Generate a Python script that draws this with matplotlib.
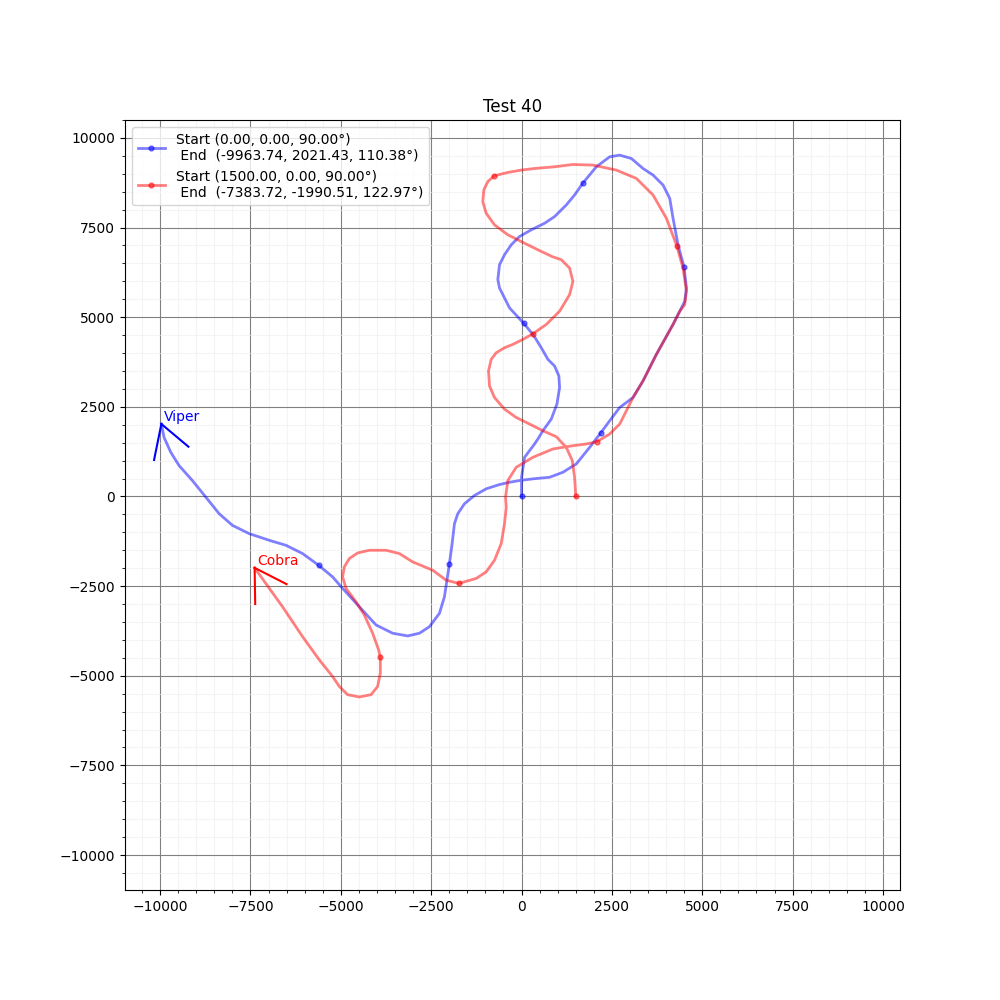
import numpy as np
import matplotlib
matplotlib.use("Agg")
import matplotlib.pyplot as plt
from matplotlib.ticker import MultipleLocator

# Viper track (x, y)
viper_x = [0, 0, 83, 360, 452, 590, 823, 978, 1053, 1033, 914, 729, 546, 330, 64, -332,
           -609, -656, -609, -471, -285, -55, 269, 637, 914, 1238, 1468, 1698, 2069, 2438,
           2715, 3039, 3360, 3637, 3914, 4100, 4191, 4330, 4496, 4562, 4515, 4377, 4191,
           3731, 3360, 3083, 2715, 2438, 2188, 1884, 1515, 1144, 776, 313, -55, -332, -609,
           -978, -1302, -1579, -1764, -1856, -1920, -1994, -2133, -2271, -2548, -2825,
           -3149, -3565, -4025, -4487, -4950, -5227, -5615, -6058, -6518, -6980, -7534,
           -7997, -8365, -8734, -9105, -9473, -9703, -9889, -9963.74]
viper_y = [0, 536, 1092, 1464, 1603, 1833, 2159, 2575, 3036, 3361, 3639, 3825, 4148, 4500,
           4825, 5259, 5814, 6048, 6464, 6742, 7020, 7251, 7437, 7620, 7806, 8131, 8409,
           8742, 9195, 9473, 9520, 9426, 9148, 8965, 8687, 8315, 7759, 7020, 6389, 5814,
           5445, 5167, 4798, 3964, 3222, 2759, 2481, 2111, 1770, 1370, 908, 675, 536, 492,
           444, 397, 333, 214, 28, -203, -481, -758, -1314, -1870, -2797, -3259, -3631,
           -3814, -3889, -3814, -3584, -3075, -2564, -2242, -1917, -1592, -1361, -1222,
           -1036, -806, -481, -19, 444, 861, 1231, 1647, 2021.43]
viper_marks_x = [0, 64, 1698, 4496, 2188, -1994, -5615]
viper_marks_y = [0, 4825, 8742, 6389, 1770, -1870, -1917]

# Cobra track
cobra_x = [1500, 1468, 1404, 1238, 961, 590, 222, -147, -471, -748, -886, -914, -839, -701,
           -471, -241, 36, 313, 684, 1053, 1330, 1421, 1330, 1100, 850, 546, 83, -379, -748,
           -978, -1072, -1044, -934, -767, -609, -379, -8, 360, 914, 1421, 1975, 2623, 3177,
           3637, 4008, 4294, 4468, 4562, 4515, 4377, 4191, 3731, 3360, 3083, 2900, 2715,
           2438, 2086, 1792, 1421, 867, 313, -147, -379, -443, -424, -471, -562, -748, -978,
           -1255, -1737, -2086, -2457, -3011, -3379, -3748, -4210, -4534, -4764, -4903,
           -4950, -4856, -4579, -4349, -4119, -3953, -3906, -3906, -3981, -4163, -4487,
           -4811, -5041, -5227, -5595, -6058, -6612, -7075, -7383.72]
cobra_y = [0, 536, 1000, 1370, 1667, 1833, 2020, 2203, 2436, 2759, 3084, 3500, 3825, 4009,
           4148, 4242, 4381, 4537, 4798, 5167, 5631, 6000, 6370, 6603, 6690, 6834, 7064,
           7298, 7576, 7898, 8223, 8548, 8779, 8937, 8981, 9037, 9103, 9148, 9195, 9259,
           9242, 9103, 8870, 8409, 7759, 6992, 6370, 5723, 5353, 5167, 4798, 3964, 3222,
           2759, 2389, 2020, 1742, 1528, 1464, 1417, 1325, 1092, 814, 444, -19, -297, -758,
           -1314, -1778, -2103, -2286, -2425, -2334, -2056, -1825, -1592, -1500, -1500,
           -1575, -1731, -1964, -2242, -2564, -2936, -3306, -3814, -4278, -4481, -4925,
           -5298, -5528, -5592, -5528, -5298, -5020, -4556, -3909, -3075, -2425, -1990.51]
cobra_marks_x = [1500, 313, -767, 4294, 2086, -1737, -3906]
cobra_marks_y = [0, 4537, 8937, 6992, 1528, -2425, -4481]

# heading whiskers drawn at each end point
viper_whisker = [(-10166, 1019), (-9216, 1389)]
cobra_whisker = [(-7368, -3000), (-6501, -2444)]

labels = ["Start (0.00, 0.00, 90.00\u00b0)\n End  (-9963.74, 2021.43, 110.38\u00b0)",
          "Start (1500.00, 0.00, 90.00\u00b0)\n End  (-7383.72, -1990.51, 122.97\u00b0)"]


def mark_index(xs, ys, mx, my):
    xs, ys = np.asarray(xs), np.asarray(ys)
    return [int(np.argmin((xs - a) ** 2 + (ys - b) ** 2)) for a, b in zip(mx, my)]


fig, ax = plt.subplots(figsize=(10, 10), dpi=100)

tracks = [(viper_x, viper_y, viper_marks_x, viper_marks_y, viper_whisker, "b", "Viper"),
          (cobra_x, cobra_y, cobra_marks_x, cobra_marks_y, cobra_whisker, "r", "Cobra")]

for (xs, ys, mx, my, whisk, col, name), lab in zip(tracks, labels):
    ax.plot(xs, ys, color=col, alpha=0.5, lw=2, marker="o", ms=3.5,
            markevery=mark_index(xs, ys, mx, my), label=lab)
    ex, ey = xs[-1], ys[-1]
    for wx, wy in whisk:
        ax.plot([ex, wx], [ey, wy], color=col, lw=1.5)
    ax.text(ex + 80, ey + 80, name, color=col, fontsize=10)

ax.set_xlim(-10970, 10470)
ax.set_ylim(-10975, 10500)
ax.xaxis.set_major_locator(MultipleLocator(2500))
ax.yaxis.set_major_locator(MultipleLocator(2500))
ax.xaxis.set_minor_locator(MultipleLocator(500))
ax.yaxis.set_minor_locator(MultipleLocator(500))
ax.grid(which="major", color="gray", lw=0.8)
ax.grid(which="minor", color="#eeeeee", lw=0.8, alpha=0.6)
ax.set_title("Test 40")
ax.legend(loc="upper left")

fig.savefig("out.png")
